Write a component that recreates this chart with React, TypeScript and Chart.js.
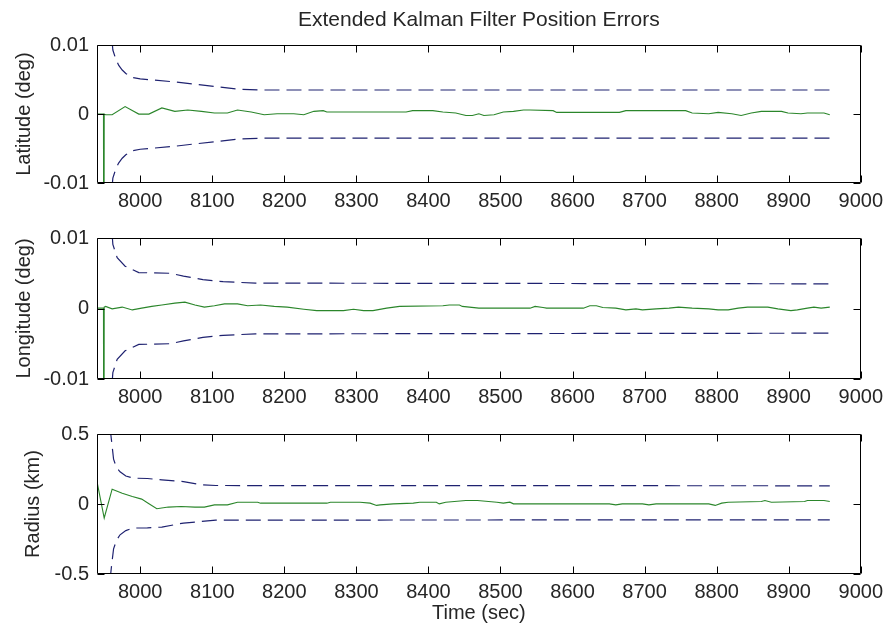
import { useEffect, useRef } from "react";
import { Chart, registerables } from "chart.js";

Chart.register(...registerables);

const FONT = "'Liberation Sans', Arial, Helvetica, sans-serif";
const TEXT_COLOR = "#262626";
const ERR_COLOR = "#2b862b";
const BOUND_COLOR = "#1f2270";

const titleText = "Extended Kalman Filter Position Errors";
const timeLabel = "Time (sec)";
const timeMin = 7940;
const timeMax = 9000;
const timeTicks = [8000, 8100, 8200, 8300, 8400, 8500, 8600, 8700, 8800, 8900, 9000];

// Latitude error (deg) and its 3-sigma envelope
const latLabel = "Latitude (deg)";
const latTicks = [-0.01, 0, 0.01];
const latTickLabels = ["-0.01", "0", "0.01"];
const latTime = [
  7940, 7949, 7949.5, 7950, 7952, 7961, 7979, 7998, 8012, 8030, 8048, 8066, 8085, 8103, 8121,
  8135, 8154, 8172, 8190, 8213, 8227, 8241, 8254, 8259, 8305, 8369, 8378, 8406, 8420, 8438,
  8452, 8461, 8470, 8477, 8491, 8504, 8518, 8532, 8541, 8573, 8578, 8665, 8674, 8757, 8766,
  8789, 8802, 8821, 8834, 8848, 8862, 8890, 8899, 8917, 8926, 8949, 8957,
];
const latErr = [
  0, 0, -0.05, 0, -0.0001, -0.0001, 0.0011, 0, 0, 0.0009, 0.0004, 0.0006, 0.0004, 0.00015, 0.00015,
  0.0006, 0.0003, -0.0001, 0.00005, 0.00005, -0.0001, 0.0004, 0.0005, 0.0003, 0.0003, 0.0003, 0.0005, 0.0005, 0.0003, 0.00015,
  -0.0002, -0.0002, 0.00005, -0.0002, -0.0001, 0.0003, 0.0004, 0.0006, 0.0006, 0.0005, 0.00025, 0.00025, 0.0005, 0.0005, 0.00015,
  0.00005, 0.00025, 0.00005, -0.0002, 0.00015, 0.0004, 0.0004, 0.00015, 0.00005, 0.00015, 0.00015, -0.0001,
];
const latSigmaTime = [7961, 7962, 7966, 7970, 7975, 7980, 7990, 8000, 8045, 8078, 8105, 8138, 8170, 8957];
const latSigma = [0.0105, 0.0093, 0.008, 0.0071, 0.0064, 0.0059, 0.0053, 0.0051, 0.0047, 0.0043, 0.004, 0.0036, 0.0035, 0.0035];

// Longitude error (deg) and its 3-sigma envelope
const lonLabel = "Longitude (deg)";
const lonTicks = [-0.01, 0, 0.01];
const lonTickLabels = ["-0.01", "0", "0.01"];
const lonTime = [
  7940, 7949, 7949.5, 7950, 7952, 7961, 7975, 7989, 8002, 8016, 8030, 8048, 8062, 8076, 8089,
  8103, 8117, 8135, 8149, 8167, 8186, 8204, 8227, 8245, 8282, 8296, 8310, 8323, 8342, 8360,
  8420, 8429, 8443, 8447, 8470, 8541, 8548, 8559, 8564, 8615, 8624, 8633, 8642, 8660, 8674,
  8688, 8697, 8716, 8734, 8747, 8766, 8789, 8802, 8816, 8830, 8843, 8871, 8885, 8903, 8912,
  8926, 8935, 8945, 8957,
];
const lonErr = [
  0.00005, 0.00005, -0.05, 0.0002, 0.0003, -0.00005, 0.0002, -0.0002, 0.00005, 0.0003, 0.0005, 0.00076, 0.0009, 0.0005, 0.0002,
  0.0004, 0.00066, 0.00066, 0.0004, 0.0005, 0.0003, 0.0002, -0.0001, -0.0003, -0.0003, -0.0001, -0.0003, -0.0003, 0.00005, 0.0003,
  0.0004, 0.0005, 0.0005, 0.0003, 0.00005, 0.00005, 0.0003, 0.00015, 0.00005, 0.00005, 0.0004, 0.0004, 0.00015, 0.00005, -0.0002,
  -0.00005, -0.0002, -0.00005, 0.00005, 0.0002, 0.00005, -0.00005, -0.0002, -0.0002, 0.00005, 0.0002, 0.0002, -0.00005, -0.0003, -0.0002,
  0.00005, 0.0002, 0.00005, 0.0002,
];
const lonSigmaTime = [7961, 7962, 7968, 7979, 7998, 8041, 8060, 8087, 8115, 8160, 8957];
const lonSigma = [0.0105, 0.0091, 0.0072, 0.006, 0.0051, 0.005, 0.0046, 0.0041, 0.0038, 0.0036, 0.0035];

// Radius error (km) and its envelope
const radLabel = "Radius (km)";
const radTicks = [-0.5, 0, 0.5];
const radTickLabels = ["-0.5", "0", "0.5"];
const radTime = [
  7940, 7950, 7961, 7975, 7989, 8002, 8011, 8023, 8039, 8057, 8076, 8089, 8103, 8121, 8135,
  8163, 8167, 8259, 8264, 8305, 8319, 8328, 8333, 8351, 8379, 8388, 8411, 8415, 8424, 8452,
  8468, 8495, 8504, 8513, 8518, 8651, 8660, 8669, 8697, 8706, 8716, 8789, 8798, 8807, 8816,
  8862, 8867, 8876, 8922, 8926, 8949, 8957,
];
const radErr = [
  0.16, -0.1, 0.106, 0.077, 0.054, 0.035, 0.006, -0.034, -0.022, -0.018, -0.022, -0.022, -0.006, -0.006, 0.013,
  0.013, 0.006, 0.006, 0.013, 0.013, 0.006, -0.01, -0.006, 0.001, 0.006, 0.013, 0.013, 0.001, 0.013, 0.025,
  0.025, 0.013, 0.006, 0.013, 0.001, 0.001, -0.006, 0.001, 0.001, -0.006, 0.001, 0.001, -0.01, 0.006, 0.013,
  0.018, 0.025, 0.013, 0.018, 0.025, 0.025, 0.018,
];
const radSigmaTime = [7958, 7960, 7963, 7967, 7972, 7980, 7990, 8010, 8030, 8060, 8085, 8105, 8957];
const radUpper = [0.55, 0.46, 0.32, 0.26, 0.23, 0.2, 0.185, 0.182, 0.172, 0.16, 0.137, 0.132, 0.13];
const radLower = [-0.55, -0.45, -0.32, -0.26, -0.22, -0.19, -0.172, -0.17, -0.165, -0.136, -0.125, -0.115, -0.113];

const pairs = (xs: number[], ys: number[]) => xs.map((x, i) => ({ x, y: ys[i] }));
const negate = (ys: number[]) => ys.map((v) => -v);

// Box around the axes with inward-pointing tick marks on all four sides
const boxedAxes = {
  id: "boxedAxes",
  afterDraw(chart: any) {
    const { ctx, chartArea, scales } = chart;
    const left = Math.round(chartArea.left) + 0.5;
    const right = Math.round(chartArea.right) - 0.5;
    const top = Math.round(chartArea.top) + 0.5;
    const bottom = Math.round(chartArea.bottom) - 0.5;
    const len = 7;
    ctx.save();
    ctx.strokeStyle = "#000";
    ctx.lineWidth = 1;
    ctx.beginPath();
    ctx.rect(left, top, right - left, bottom - top);
    for (const t of scales.x.ticks) {
      const px = Math.round(scales.x.getPixelForValue(t.value)) + 0.5;
      ctx.moveTo(px, bottom);
      ctx.lineTo(px, bottom - len);
      ctx.moveTo(px, top);
      ctx.lineTo(px, top + len);
    }
    for (const t of scales.y.ticks) {
      const py = Math.round(scales.y.getPixelForValue(t.value)) + 0.5;
      ctx.moveTo(left, py);
      ctx.lineTo(left + len, py);
      ctx.moveTo(right, py);
      ctx.lineTo(right - len, py);
    }
    ctx.stroke();
    ctx.restore();
  },
};

type PanelProps = {
  top: number;
  height: number;
  padTop: number;
  xAxisHeight: number;
  yLabel: string;
  yLabelPad: number;
  yMin: number;
  yMax: number;
  yTicks: number[];
  yTickLabels: string[];
  errTime: number[];
  err: number[];
  boundTime: number[];
  upper: number[];
  lower: number[];
  showTitle?: boolean;
  showTimeLabel?: boolean;
};

function Panel(p: PanelProps) {
  const ref = useRef<HTMLCanvasElement>(null);

  useEffect(() => {
    const tickFont = { family: FONT, size: 20 };
    const boundStyle = {
      borderColor: BOUND_COLOR,
      borderWidth: 1.2,
      borderDash: [15, 7],
      pointRadius: 0,
      tension: 0,
    };
    const chart = new Chart(ref.current as HTMLCanvasElement, {
      type: "line",
      data: {
        datasets: [
          {
            data: pairs(p.errTime, p.err),
            borderColor: ERR_COLOR,
            borderWidth: 1.1,
            pointRadius: 0,
            tension: 0,
          },
          { data: pairs(p.boundTime, p.upper), ...boundStyle },
          { data: pairs(p.boundTime, p.lower), ...boundStyle },
        ],
      },
      options: {
        animation: false,
        responsive: false,
        devicePixelRatio: 1,
        events: [],
        layout: { padding: { left: 0, right: 23, top: p.padTop, bottom: 0 } },
        plugins: {
          legend: { display: false },
          tooltip: { enabled: false },
          title: {
            display: !!p.showTitle,
            text: titleText,
            fullSize: false,
            color: TEXT_COLOR,
            font: { family: FONT, size: 21, weight: "normal" },
            padding: { top: 8, bottom: 12 },
          },
        },
        scales: {
          x: {
            type: "linear",
            min: timeMin,
            max: timeMax,
            grid: { display: false, drawTicks: false },
            border: { display: false },
            afterBuildTicks: (s: any) => {
              s.ticks = timeTicks.map((value) => ({ value }));
            },
            afterFit: (s: any) => {
              s.height = p.xAxisHeight;
            },
            ticks: {
              autoSkip: false,
              maxRotation: 0,
              padding: 6,
              color: TEXT_COLOR,
              font: tickFont,
              callback: (v: any) => String(v),
            },
            title: {
              display: !!p.showTimeLabel,
              text: timeLabel,
              color: TEXT_COLOR,
              font: tickFont,
              padding: { top: 0, bottom: 10 },
            },
          },
          y: {
            type: "linear",
            min: p.yMin,
            max: p.yMax,
            grid: { display: false, drawTicks: false },
            border: { display: false },
            afterBuildTicks: (s: any) => {
              s.ticks = p.yTicks.map((value) => ({ value }));
            },
            afterFit: (s: any) => {
              s.width = 97;
            },
            ticks: {
              padding: 8,
              color: TEXT_COLOR,
              font: tickFont,
              callback: (_v: any, i: number) => p.yTickLabels[i],
            },
            title: {
              display: true,
              text: p.yLabel,
              color: TEXT_COLOR,
              font: tickFont,
              padding: { top: p.yLabelPad, bottom: 0 },
            },
          },
        },
      } as any,
      plugins: [boxedAxes],
    });
    return () => chart.destroy();
  }, []);

  return (
    <canvas
      ref={ref}
      width={889}
      height={p.height}
      style={{ position: "absolute", left: 0, top: p.top, width: 889, height: p.height }}
    />
  );
}

export default function App() {
  return (
    <div style={{ position: "absolute", left: 0, top: 0, width: 889, height: 635, background: "#fff" }}>
      <Panel
        top={0}
        height={213}
        padTop={0}
        xAxisHeight={30}
        showTitle
        yLabel={latLabel}
        yLabelPad={12}
        yMin={-0.01}
        yMax={0.01}
        yTicks={latTicks}
        yTickLabels={latTickLabels}
        errTime={latTime}
        err={latErr}
        boundTime={latSigmaTime}
        upper={latSigma}
        lower={negate(latSigma)}
      />
      <Panel
        top={213}
        height={196}
        padTop={25}
        xAxisHeight={30}
        yLabel={lonLabel}
        yLabelPad={12}
        yMin={-0.01}
        yMax={0.01}
        yTicks={lonTicks}
        yTickLabels={lonTickLabels}
        errTime={lonTime}
        err={lonErr}
        boundTime={lonSigmaTime}
        upper={lonSigma}
        lower={negate(lonSigma)}
      />
      <Panel
        top={409}
        height={226}
        padTop={25}
        xAxisHeight={61}
        showTimeLabel
        yLabel={radLabel}
        yLabelPad={21}
        yMin={-0.5}
        yMax={0.5}
        yTicks={radTicks}
        yTickLabels={radTickLabels}
        errTime={radTime}
        err={radErr}
        boundTime={radSigmaTime}
        upper={radUpper}
        lower={radLower}
      />
    </div>
  );
}
